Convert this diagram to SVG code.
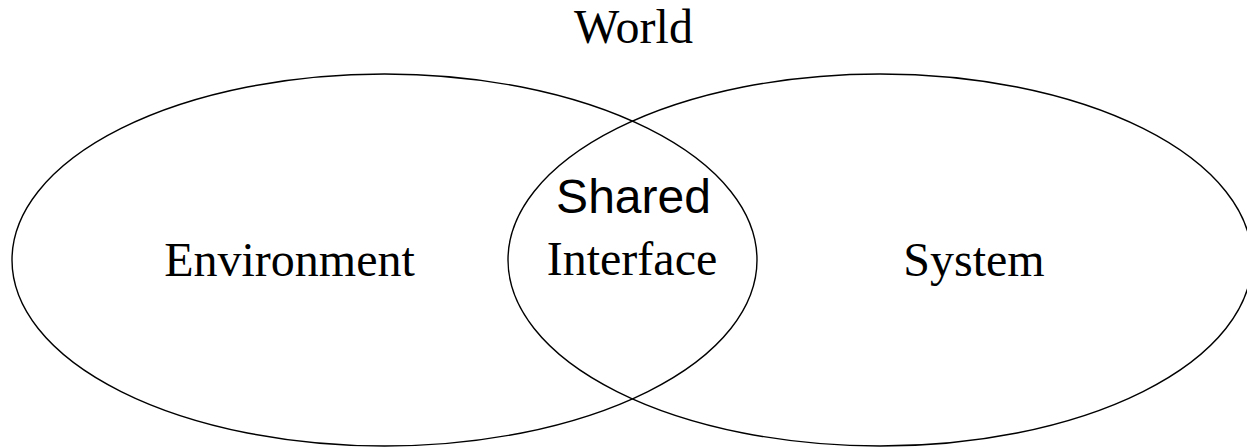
<svg xmlns="http://www.w3.org/2000/svg" width="1247" height="448" viewBox="0 0 1247 448">
<style>
.e{fill:none;stroke:#000;stroke-width:1.4}
.t{font-family:"Liberation Serif","Times New Roman",serif;font-size:48px;fill:#000;text-anchor:middle}
.s{font-family:"Liberation Sans",Arial,sans-serif;font-size:48px;fill:#000;text-anchor:middle}
</style>
<rect width="1247" height="448" fill="#fff"/>
<g id="world"><text class="t" x="633.5" y="43">World</text></g>
<g id="environment">
<ellipse class="e" cx="384.5" cy="260" rx="372.5" ry="186"/>
<text class="t" x="289.5" y="276">Environment</text>
</g>
<g id="system">
<ellipse class="e" cx="880" cy="260" rx="372" ry="186"/>
<text class="t" x="974" y="276">System</text>
</g>
<g id="shared-interface">
<text class="s" x="633.5" y="213">Shared</text>
<text class="t" x="632" y="275">Interface</text>
</g>
<g id="connectors"></g>
</svg>
